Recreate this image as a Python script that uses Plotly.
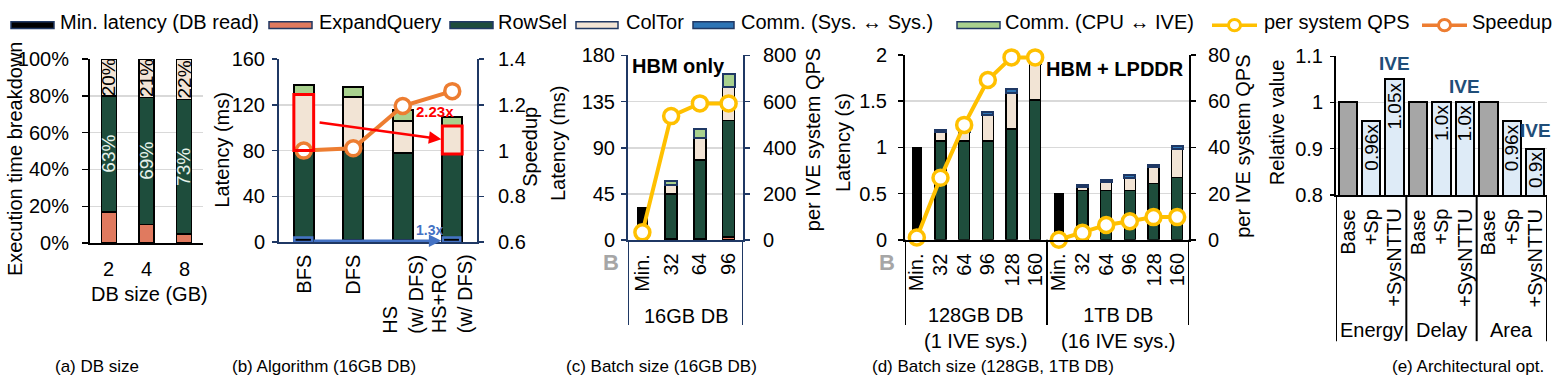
import plotly.graph_objects as go

W, H = 1556, 388


def px(x):
    return x / W


def py(y):
    return 1 - y / H


# ---------------- data ----------------
legend_labels = ["Min. latency (DB read)", "ExpandQuery", "RowSel", "ColTor",
                 "Comm. (Sys. \u2194 Sys.)", "Comm. (CPU \u2194 IVE)",
                 "per system QPS", "Speedup"]

# (a) DB size
a_db_sizes = ["2", "4", "8"]
a_expand = [17, 10, 5]
a_rowsel = [63, 69, 73]
a_coltor = [20, 21, 22]

# (b) Algorithm (16GB DB)
b_algorithms = ["BFS", "DFS", "HS<br>(w/ DFS)", "HS+RO<br>(w/ DFS)"]
b_expand = [2, 2, 2, 2]
b_rowsel = [78, 78, 75.5, 75]
b_coltor = [49, 47, 28.5, 24.5]
b_comm_cpu = [8.5, 8.5, 9.5, 7.5]
b_speedup = [1.0, 1.01, 1.195, 1.26]

# (c) Batch size (16GB DB)
c_batches = ["Min.", "32", "64", "96"]
c_min_latency = [32, None, None, None]
c_expand = [None, 1, 1.5, 3]
c_rowsel = [None, 44, 76.5, 113.5]
c_coltor = [None, 9, 21.5, 33]
c_comm_cpu = [None, 3.3, 9.1, 12.8]
c_qps = [34, 537, 592, 592]

# (d) Batch size (128GB, 1TB DB)
d_groups = ["128GB DB<br>(1 IVE sys.)", "1TB DB<br>(16 IVE sys.)"]
d_batches = ["Min.", "32", "64", "96", "128", "160",
             "Min.", "32", "64", "96", "128", "160"]
d_min_latency = [1.0, None, None, None, None, None,
                 0.5, None, None, None, None, None]
d_rowsel = [None, 1.07, 1.07, 1.07, 1.2, 1.51,
            None, 0.535, 0.535, 0.535, 0.61, 0.671]
d_coltor = [None, 0.095, 0.10, 0.283, 0.385, 0.39,
            None, 0.041, 0.085, 0.136, 0.173, 0.314]
d_comm_sys = [None, 0.02, 0.02, 0.027, 0.041, 0.03,
              None, 0.02, 0.027, 0.027, 0.031, 0.033]
d_qps = [1, 26.8, 49.7, 69.1, 78.9, 78.9,
         0, 3.0, 6.4, 8.0, 9.8, 9.8]

# (e) Architectural opt.
e_metrics = ["Energy", "Delay", "Area"]
e_configs = ["Base", "+Sp", "+SysNTTU"]
e_values = [1.0, 0.96, 1.05, 1.0, 1.0, 1.0, 1.0, 0.96, 0.9]
e_bar_labels = ["", "0.96x", "1.05x", "", "1.0x", "1.0x", "", "0.96x", "0.9x"]

captions = ["(a) DB size", "(b) Algorithm (16GB DB)", "(c) Batch size (16GB DB)",
            "(d) Batch size (128GB, 1TB DB)", "(e) Architectural opt."]

# ---------------- styles ----------------
FONT = "Liberation Sans, Arial, sans-serif"
CAP_FONT = "Liberation Sans Narrow, Arial Narrow, Liberation Sans, Arial, sans-serif"
NAVY = "#1F3864"
GRID = "#D9D9D9"
C_MIN = "#000000"
C_EXP = "#E07A5F"
C_ROW = "#1E4D3C"
C_COL = "#F2E4D5"
C_SYS = "#2E75B6"
C_CPU = "#A9D18E"
C_QPS = "#FFC000"
C_SPD = "#ED7D31"
C_BASE = "#A6A6A6"
C_OPT = "#DEEBF7"
C_IVE = "#1F4E79"

fig = go.Figure()


def bars(x, y, color, xa, ya, width, lc="black", lw=1.5):
    fig.add_trace(go.Bar(x=x, y=y, width=width, xaxis=xa, yaxis=ya,
                         marker=dict(color=color, line=dict(color=lc, width=lw)),
                         showlegend=False, hoverinfo="skip"))


def line(x, y, color, xa, ya):
    fig.add_trace(go.Scatter(x=x, y=y, xaxis=xa, yaxis=ya, mode="lines+markers",
                             line=dict(color=color, width=4),
                             marker=dict(size=15, color="white", line=dict(color=color, width=3.5)),
                             showlegend=False, hoverinfo="skip", cliponaxis=False))


# (a)
ax_ = list(range(len(a_db_sizes)))
bars(ax_, a_expand, C_EXP, "x", "y", 0.4)
bars(ax_, a_rowsel, C_ROW, "x", "y", 0.4)
bars(ax_, a_coltor, C_COL, "x", "y", 0.4)

# (b)
bx = list(range(len(b_algorithms)))
bars(bx, b_expand, C_EXP, "x2", "y2", 0.4, lw=2)
bars(bx, b_rowsel, C_ROW, "x2", "y2", 0.4, lw=2)
bars(bx, b_coltor, C_COL, "x2", "y2", 0.4, lw=2)
bars(bx, b_comm_cpu, C_CPU, "x2", "y2", 0.4, lw=2)
line(bx, b_speedup, C_SPD, "x2", "y3")

# (c)
cx = list(range(len(c_batches)))
bars(cx, c_min_latency, C_MIN, "x3", "y4", 0.35)
bars(cx, c_expand, C_EXP, "x3", "y4", 0.42)
bars(cx, c_rowsel, C_ROW, "x3", "y4", 0.42)
bars(cx, c_coltor, C_COL, "x3", "y4", 0.42)
bars(cx, c_comm_cpu, C_CPU, "x3", "y4", 0.42, lc=NAVY, lw=2)
line(cx, c_qps, C_QPS, "x3", "y5")

# (d)
dx = list(range(len(d_batches)))
bars(dx, d_min_latency, C_MIN, "x4", "y6", 0.38)
bars(dx, d_rowsel, C_ROW, "x4", "y6", 0.46)
bars(dx, d_coltor, C_COL, "x4", "y6", 0.46)
bars(dx, d_comm_sys, C_SYS, "x4", "y6", 0.46, lc=NAVY, lw=2)
line(dx[:6], d_qps[:6], C_QPS, "x4", "y7")
line(dx[6:], d_qps[6:], C_QPS, "x4", "y7")

# (e)
ex = list(range(len(e_values)))
e_cfg_per_bar = [c for _ in e_metrics for c in e_configs]
e_colors = [C_BASE if c == "Base" else C_OPT for c in e_cfg_per_bar]
bars(ex, e_values, e_colors, "x5", "y8", 0.78, lw=2)

# ---------------- axes ----------------
tickfont = dict(size=20, color="black", family=FONT)


def xax(d0, d1, anchor, n, color):
    return dict(domain=[px(d0), px(d1)], anchor=anchor, range=[-0.5, n - 0.5],
                showgrid=False, zeroline=False, showline=True, linecolor=color,
                linewidth=2, showticklabels=False, ticks="", fixedrange=True)


def yax(d_bottom, d_top, anchor, rng, tickvals, ticktext, color, grid=True,
        side="left", overlaying=None, standoff=3, ticklen=5):
    d = dict(domain=[py(d_bottom), py(d_top)], anchor=anchor, range=rng,
             tickvals=tickvals, ticktext=ticktext, showgrid=grid, gridcolor=GRID,
             gridwidth=1.5, zeroline=False, showline=True, linecolor=color,
             linewidth=2, ticks="outside", ticklen=ticklen, tickwidth=1.5,
             tickcolor=color, tickfont=tickfont, side=side,
             ticklabelstandoff=standoff, fixedrange=True)
    if overlaying:
        d["overlaying"] = overlaying
    return d


fig.update_layout(
    xaxis=xax(90, 203, "y", 3, "black"),
    yaxis=yax(246, 51, "x", [0, 100], [0, 20, 40, 60, 80, 100],
              ["0%", "20%", "40%", "60%", "80%", "100%"], "black", standoff=9, ticklen=6),
    xaxis2=xax(279, 477, "y2", 4, NAVY),
    yaxis2=yax(245, 51, "x2", [0, 160], [0, 40, 80, 120, 160],
               ["0", "40", "80", "120", "160"], NAVY, standoff=3),
    yaxis3=yax(245, 51, "x2", [0.6, 1.4], [0.6, 0.8, 1.0, 1.2, 1.4],
               ["0.6", "0.8", "1", "1.2", "1.4"], NAVY, grid=False, side="right",
               overlaying="y2", standoff=10),
    xaxis3=xax(628, 743, "y4", 4, NAVY),
    yaxis4=yax(243, 47, "x3", [0, 180], [0, 45, 90, 135, 180],
               ["0", "45", "90", "135", "180"], NAVY, standoff=2),
    yaxis5=yax(243, 47, "x3", [0, 800], [0, 200, 400, 600, 800],
               ["0", "200", "400", "600", "800"], NAVY, grid=False, side="right",
               overlaying="y4", standoff=9),
    xaxis4=xax(905, 1189, "y6", 12, "black"),
    yaxis6=yax(242.5, 46.5, "x4", [0, 2], [0, 0.5, 1, 1.5, 2],
               ["0", "0.5", "1", "1.5", "2"], "black", standoff=7),
    yaxis7=yax(242.5, 46.5, "x4", [0, 80], [0, 20, 40, 60, 80],
               ["0", "20", "40", "60", "80"], "black", grid=False, side="right",
               overlaying="y6", standoff=8),
    xaxis5=xax(1336, 1547, "y8", 9, "black"),
    yaxis8=yax(195, 48, "x5", [0.8, 1.1], [0.8, 0.9, 1.0, 1.1],
               ["0.8", "0.9", "1", "1.1"], "black", standoff=3, ticklen=4),
)

annotations = []
shapes = []


def ann(text, x, y, xref="paper", yref="paper", angle=0, size=20, color="black",
        xanchor="center", yanchor="middle", align="center", bold=False, family=FONT, **kw):
    if bold:
        text = "<b>" + text + "</b>"
    a = dict(text=text, x=x, y=y, xref=xref, yref=yref, textangle=angle,
             showarrow=False, xanchor=xanchor, yanchor=yanchor, align=align,
             font=dict(size=size, color=color, family=family), borderpad=0)
    a.update(kw)
    annotations.append(a)


# axis titles
ann("Execution time breakdown", px(15), py(157), angle=-90)
ann("DB size (GB)", px(149), py(300))
ann("Latency (ms)", px(222), py(147), angle=-90)
ann("Speedup", px(530), py(144), angle=-90)
ann("Latency (ms)", px(558), py(140), angle=-90)
ann("per IVE system QPS", px(813), py(137), angle=-90)
ann("Latency (s)", px(843), py(140), angle=-90)
ann("per IVE system QPS", px(1243), py(144), angle=-90)
ann("Relative value", px(1277), py(118), angle=-90)

# category labels
for i, lbl in enumerate(a_db_sizes):
    ann(lbl, i, py(273), xref="x")
for i, lbl in enumerate(b_algorithms):
    ann(lbl, i, py(257), xref="x2", angle=-90, yanchor="top", align="left")
for i, lbl in enumerate(c_batches):
    ann(lbl, i, py(256), xref="x3", angle=-90, yanchor="top")
for i, lbl in enumerate(d_batches):
    ann(lbl, i, py(256), xref="x4", angle=-90, yanchor="top")
for i, lbl in enumerate(e_cfg_per_bar):
    ann(lbl, i, py(209), xref="x5", angle=-90, yanchor="top")

ann("16GB DB", (len(c_batches) - 1) / 2, py(323), xref="x3")
for g, lbl in enumerate(d_groups):
    ann(lbl, g * 6 + 2.5, py(336), xref="x4")
for g, lbl in enumerate(e_metrics):
    ann(lbl, g * 3 + 1, py(338), xref="x5")

# (a) in-bar percentages
for i in range(len(a_db_sizes)):
    ann(f"{a_rowsel[i]}%", i, a_expand[i] + a_rowsel[i] / 2, xref="x", yref="y",
        angle=-90, size=19, color="#E6F2EA")
    ann(f"{a_coltor[i]}%", i, a_expand[i] + a_rowsel[i] + a_coltor[i] / 2,
        xref="x", yref="y", angle=-90, size=19)

# (b) highlights
shapes.append(dict(type="rect", xref="x2", yref="y2", x0=-0.2, x1=0.2,
                   y0=b_expand[0] + b_rowsel[0], y1=b_expand[0] + b_rowsel[0] + b_coltor[0],
                   line=dict(color="#FF0000", width=3)))
shapes.append(dict(type="rect", xref="x2", yref="y2", x0=2.8, x1=3.2,
                   y0=b_expand[3] + b_rowsel[3], y1=b_expand[3] + b_rowsel[3] + b_coltor[3],
                   line=dict(color="#FF0000", width=3)))
annotations.append(dict(x=2.78, y=90, ax=0.29, ay=104.7, xref="x2", yref="y2",
                        axref="x2", ayref="y2", text="", showarrow=True, arrowhead=2,
                        arrowsize=1, arrowwidth=2.5, arrowcolor="#FF0000", standoff=0))
ann("2.23x", 2.65, 113.8, xref="x2", yref="y2", size=15, color="#FF0000", bold=True)
shapes.append(dict(type="rect", xref="x2", yref="y2", x0=-0.19, x1=0.17, y0=0.2, y1=4,
                   line=dict(color="#4472C4", width=2.5)))
shapes.append(dict(type="rect", xref="x2", yref="y2", x0=2.81, x1=3.16, y0=0.2, y1=4,
                   line=dict(color="#4472C4", width=2.5)))
annotations.append(dict(x=2.78, y=1.2, ax=0.17, ay=1.2, xref="x2", yref="y2",
                        axref="x2", ayref="y2", text="", showarrow=True, arrowhead=2,
                        arrowsize=1, arrowwidth=2.5, arrowcolor="#4472C4", standoff=0))
ann("1.3x", 2.55, 10.7, xref="x2", yref="y2", size=14, color="#4472C4", bold=True)

# (c), (d) extra text
ann("HBM only", px(631), py(58), xanchor="left", bold=True)
ann("HBM + LPDDR", px(1045), py(61), xanchor="left", bold=True)
ann("B", px(611), py(267), size=22, color="#A6A6A6", bold=True)
ann("B", px(887), py(267), size=22, color="#A6A6A6", bold=True)

# (e) labels
for i, lbl in enumerate(e_bar_labels):
    if lbl:
        ann(lbl, i, e_values[i], xref="x5", yref="y8", angle=-90, size=19,
            yanchor="top", yshift=-2)
for g in range(len(e_metrics)):
    i = g * 3 + 2
    ann("IVE", i, e_values[i], xref="x5", yref="y8", size=19, color=C_IVE,
        bold=True, yanchor="bottom", yshift=4 if g < 2 else 7)

# frame lines below axes
for xv in [-0.5, len(c_batches) - 0.5]:
    shapes.append(dict(type="line", xref="x3", yref="paper", x0=xv, x1=xv,
                       y0=py(333), y1=py(243), line=dict(color=NAVY, width=2)))
for xv in [-0.5, 5.5, len(d_batches) - 0.5]:
    shapes.append(dict(type="line", xref="x4", yref="paper", x0=xv, x1=xv,
                       y0=py(333), y1=py(242.5), line=dict(color="black", width=2)))
for xv in [-0.5, 2.5, 5.5, len(e_values) - 0.5]:
    shapes.append(dict(type="line", xref="x5", yref="paper", x0=xv, x1=xv,
                       y0=py(350), y1=py(195), line=dict(color="black", width=2)))

# captions
for cap, cxp in zip(captions, [97, 324, 661, 993, 1468]):
    ann(cap, px(cxp), py(377), size=17, family=CAP_FONT)

# legend (manual)
box_items = [(11, 54, 59, C_MIN), (269, 312, 318, C_EXP), (450, 493, 497, C_ROW),
             (576, 618, 625, C_COL), (693, 734, 740, C_SYS), (957, 1000, 1004, C_CPU)]
for (x0, x1, tx, col), lbl in zip(box_items, legend_labels[:6]):
    shapes.append(dict(type="rect", xref="paper", yref="paper", x0=px(x0), x1=px(x1),
                       y0=py(18.5), y1=py(11.5), fillcolor=col,
                       line=dict(color="#203864", width=1.5)))
    ann(lbl, px(tx), py(12), xanchor="left", size=20)
line_items = [(1212, 1257, 1263, C_QPS), (1422, 1467, 1471, C_SPD)]
for (x0, x1, tx, col), lbl in zip(line_items, legend_labels[6:]):
    shapes.append(dict(type="line", xref="paper", yref="paper", x0=px(x0), x1=px(x1),
                       y0=py(15), y1=py(15), line=dict(color=col, width=3.5)))
    cxm = (x0 + x1) / 2
    shapes.append(dict(type="circle", xref="paper", yref="paper", x0=px(cxm - 6),
                       x1=px(cxm + 6), y0=py(21), y1=py(9), fillcolor="white",
                       line=dict(color=col, width=3)))
    ann(lbl, px(tx), py(12), xanchor="left", size=20)

fig.update_layout(
    width=W, height=H, margin=dict(l=0, r=0, t=0, b=0),
    plot_bgcolor="white", paper_bgcolor="white", barmode="stack",
    showlegend=False, font=dict(family=FONT, size=20, color="black"),
    annotations=annotations, shapes=shapes,
)

fig.write_html(
    "out.html",
    config={"displayModeBar": False, "staticPlot": True},
    post_script="document.body.style.margin='0';document.body.style.padding='0';"
                "document.body.style.overflow='hidden';",
)
